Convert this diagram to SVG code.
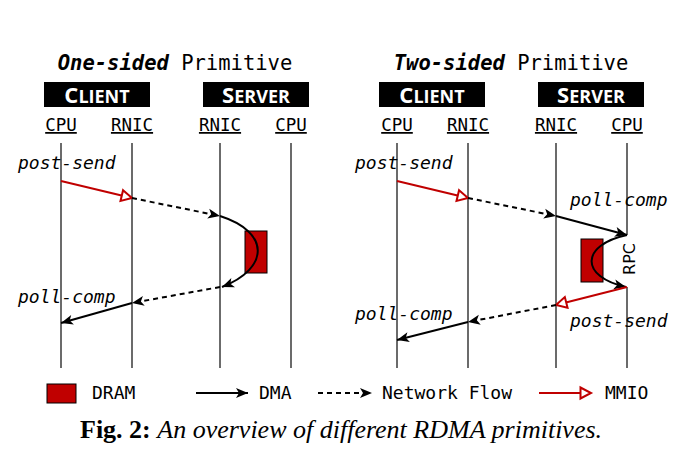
<svg xmlns="http://www.w3.org/2000/svg" width="684" height="466" viewBox="0 0 684 466">
<style>
.mono{font-family:"DejaVu Sans Mono","Liberation Mono",monospace;fill:#000}
.title{font-size:20.5px}
.bi{font-weight:bold;font-style:italic}
.lbl{font-size:17.5px;text-decoration:underline}
.it{font-size:18px;font-style:italic}
.leg{font-size:18px}
.hdr{font-family:"Open Sans","DejaVu Sans",sans-serif;font-weight:bold;fill:#fff}
.box{fill:#000}
.life{stroke:#3a3a3a;stroke-width:1.5;fill:none}
.dma{stroke:#000;stroke-width:2;fill:none;marker-end:url(#ah)}
.net{stroke:#000;stroke-width:2;fill:none;stroke-dasharray:5 4;marker-end:url(#ah)}
.mmio{stroke:#c00000;stroke-width:2;fill:none;marker-end:url(#rh)}
.dram{fill:#c00000;stroke:#000;stroke-width:1}
.cap{font-family:"Liberation Serif","Times New Roman",serif;font-size:26px;fill:#000}
</style>
<defs>
<marker id="ah" markerUnits="userSpaceOnUse" markerWidth="14" markerHeight="12" refX="12" refY="5" orient="auto" overflow="visible">
<path d="M0,0 L12,5 L0,10 L3,5 Z" fill="#000"/>
</marker>
<marker id="rh" markerUnits="userSpaceOnUse" markerWidth="14" markerHeight="14" refX="12" refY="6" orient="auto" overflow="visible">
<path d="M1.5,0.5 L12,6 L1.5,11.5 Z" fill="#fff" stroke="#c00000" stroke-width="2" stroke-linejoin="miter"/>
</marker>
</defs>
<rect width="684" height="466" fill="#fff"/>

<!-- titles -->
<text class="mono title" x="175" y="70" text-anchor="middle"><tspan class="bi">One-sided</tspan> Primitive</text>
<text class="mono title" x="511" y="70" text-anchor="middle"><tspan class="bi">Two-sided</tspan> Primitive</text>

<!-- headers -->
<g id="hdr-client-1"><rect class="box" x="44" y="82" width="106" height="25"/><text class="hdr" x="97" y="103" text-anchor="middle"><tspan font-size="22">C</tspan><tspan font-size="18">LIENT</tspan></text></g>
<g id="hdr-server-1"><rect class="box" x="203" y="82" width="106" height="25"/><text class="hdr" x="256" y="103" text-anchor="middle"><tspan font-size="22">S</tspan><tspan font-size="18">ERVER</tspan></text></g>
<g id="hdr-client-2"><rect class="box" x="379" y="82" width="106" height="25"/><text class="hdr" x="432" y="103" text-anchor="middle"><tspan font-size="22">C</tspan><tspan font-size="18">LIENT</tspan></text></g>
<g id="hdr-server-2"><rect class="box" x="538" y="82" width="106" height="25"/><text class="hdr" x="591" y="103" text-anchor="middle"><tspan font-size="22">S</tspan><tspan font-size="18">ERVER</tspan></text></g>

<!-- lifelines -->
<g id="l1-client-cpu"><text class="mono lbl" x="61" y="131" text-anchor="middle">CPU</text><line class="life" x1="61" y1="143" x2="61" y2="368"/></g>
<g id="l1-client-rnic"><text class="mono lbl" x="132" y="131" text-anchor="middle">RNIC</text><line class="life" x1="132" y1="143" x2="132" y2="368"/></g>
<g id="l1-server-rnic"><text class="mono lbl" x="220" y="131" text-anchor="middle">RNIC</text><line class="life" x1="220" y1="143" x2="220" y2="368"/></g>
<g id="l1-server-cpu"><text class="mono lbl" x="291" y="131" text-anchor="middle">CPU</text><line class="life" x1="291" y1="143" x2="291" y2="368"/></g>

<g id="l2-client-cpu"><text class="mono lbl" x="397" y="131" text-anchor="middle">CPU</text><line class="life" x1="397" y1="143" x2="397" y2="368"/></g>
<g id="l2-client-rnic"><text class="mono lbl" x="468" y="131" text-anchor="middle">RNIC</text><line class="life" x1="468" y1="143" x2="468" y2="368"/></g>
<g id="l2-server-rnic"><text class="mono lbl" x="556" y="131" text-anchor="middle">RNIC</text><line class="life" x1="556" y1="143" x2="556" y2="368"/></g>
<g id="l2-server-cpu"><text class="mono lbl" x="627" y="131" text-anchor="middle">CPU</text><line class="life" x1="627" y1="143" x2="627" y2="235"/><line class="life" x1="627" y1="287" x2="627" y2="368"/></g>

<!-- DRAM -->
<g id="dram-1"><rect class="dram" x="245" y="231" width="22" height="42"/></g>
<g id="dram-2"><rect class="dram" x="581" y="239" width="22" height="43"/></g>

<!-- annotations -->
<text class="mono it" x="18" y="169">post-send</text>
<text class="mono it" x="18" y="303">poll-comp</text>
<text class="mono it" x="355" y="169">post-send</text>
<text class="mono it" x="570" y="206">poll-comp</text>
<text class="mono it" x="570" y="327">post-send</text>
<text class="mono it" x="355" y="320">poll-comp</text>
<text font-family="DejaVu Sans,sans-serif" font-size="16" transform="translate(628,259) rotate(-90)" x="0" y="7" text-anchor="middle">RPC</text>

<!-- connectors -->
<g id="connectors">
<path class="mmio" d="M61,181 L132,198"/>
<path class="net" d="M132,198 L220,216"/>
<path class="dma" d="M220,216 C270,232 270,268 222,287"/>
<path class="net" d="M220,287 L132,303"/>
<path class="dma" d="M132,303 L61,323"/>

<path class="mmio" d="M397,181 L468,198"/>
<path class="net" d="M468,198 L556,216"/>
<path class="dma" d="M556,216 L627,235"/>
<path class="dma" d="M627,235 C580,245 580,277 626,287"/>
<path class="mmio" d="M627,287 L556,305"/>
<path class="net" d="M556,305 L468,322"/>
<path class="dma" d="M468,322 L397,340"/>
</g>

<!-- legend -->
<g id="legend">
<rect class="dram" x="47" y="384" width="29" height="19"/>
<text class="mono leg" x="92" y="399">DRAM</text>
<path class="dma" d="M196,393 L248,393"/>
<text class="mono leg" x="259" y="399">DMA</text>
<path class="net" d="M318,393 L372,393"/>
<text class="mono leg" x="382" y="399">Network Flow</text>
<path class="mmio" d="M539,393 L591,393"/>
<text class="mono leg" x="605" y="399">MMIO</text>
</g>

<text class="cap" x="80" y="438"><tspan font-weight="bold">Fig. 2:</tspan> <tspan font-style="italic">An overview of different RDMA primitives.</tspan></text>
</svg>
